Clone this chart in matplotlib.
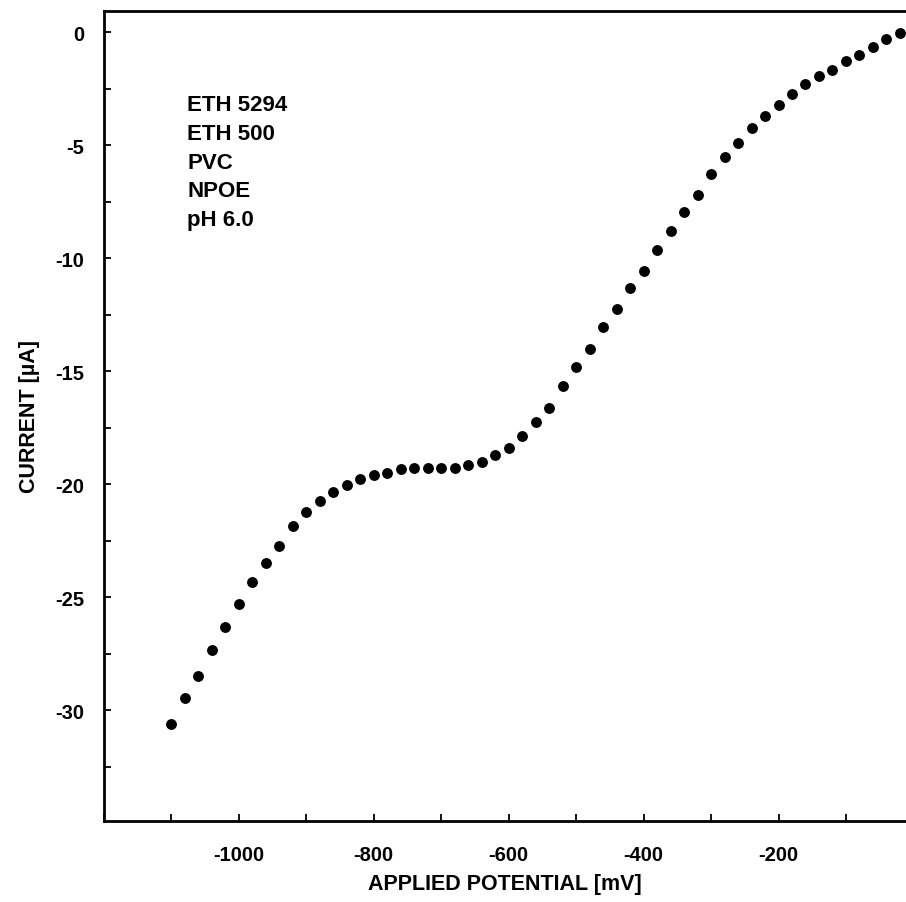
import matplotlib
matplotlib.use("Agg")
import matplotlib.pyplot as plt
from matplotlib.ticker import MultipleLocator, FixedLocator

potential_mV = [-1100, -1080, -1060, -1040, -1020, -1000, -980, -960, -940, -920,
                -900, -880, -860, -840, -820, -800, -780, -760, -740, -720,
                -700, -680, -660, -640, -620, -600, -580, -560, -540, -520,
                -500, -480, -460, -440, -420, -400, -380, -360, -340, -320,
                -300, -280, -260, -240, -220, -200, -180, -160, -140, -120,
                -100, -80, -60, -40, -20]
current_uA = [-30.62, -29.44, -28.48, -27.33, -26.30, -25.31, -24.35, -23.47, -22.73, -21.87,
              -21.25, -20.74, -20.34, -20.03, -19.75, -19.60, -19.51, -19.31, -19.29, -19.29,
              -19.29, -19.29, -19.14, -19.00, -18.70, -18.42, -17.86, -17.27, -16.61, -15.65,
              -14.81, -14.00, -13.07, -12.23, -11.34, -10.56, -9.63, -8.82, -7.98, -7.21,
              -6.28, -5.54, -4.93, -4.25, -3.70, -3.23, -2.74, -2.30, -1.96, -1.68,
              -1.27, -1.02, -0.68, -0.31, -0.04]

x_major = [-1000, -800, -600, -400, -200]
y_major = [0, -5, -10, -15, -20, -25, -30]
annotation_lines = ["ETH 5294", "ETH 500", "PVC", "NPOE", "pH 6.0"]

plt.rcParams['font.family'] = ['Liberation Sans', 'DejaVu Sans']
plt.rcParams['font.weight'] = 'bold'
plt.rcParams['axes.unicode_minus'] = False

fig = plt.figure(figsize=(9.06, 9.03), dpi=100)
W, H = 906, 903
left, right, top, bottom = 104, 906, 12, 822
ax = fig.add_axes([left / W, 1 - bottom / H, (right - left) / W, (bottom - top) / H])

ax.plot(potential_mV, current_uA, linestyle='none', marker='o', markersize=6.8,
        color='black')

ax.set_xlim(-1200, -11)
ax.set_ylim(-34.9, 0.93)

ax.xaxis.set_major_locator(FixedLocator(x_major))
ax.xaxis.set_minor_locator(MultipleLocator(100))
ax.yaxis.set_major_locator(FixedLocator(y_major))
ax.yaxis.set_minor_locator(MultipleLocator(2.5))

for which in ('major', 'minor'):
    ax.tick_params(axis='both', which=which, direction='in', length=5, width=1.3,
                   color='black')
ax.tick_params(axis='x', which='major', labelsize=14.5, pad=17)
ax.tick_params(axis='y', which='major', labelsize=14.5, pad=14)
for lab in ax.get_xticklabels() + ax.get_yticklabels():
    lab.set_fontweight('bold')

ax.spines['right'].set_visible(False)
for s in ('left', 'top', 'bottom'):
    ax.spines[s].set_linewidth(2.0)

ax.set_xlabel('APPLIED POTENTIAL [mV]', fontsize=15.5, fontweight='bold', labelpad=7)
ax.set_ylabel('CURRENT [µA]', fontsize=15.5, fontweight='bold', labelpad=11)

ax.text(0.1035, 0.897, "\n".join(annotation_lines), transform=ax.transAxes,
        fontsize=16, fontweight='bold', va='top', ha='left', linespacing=1.48)

fig.savefig('out.png', dpi=100)
